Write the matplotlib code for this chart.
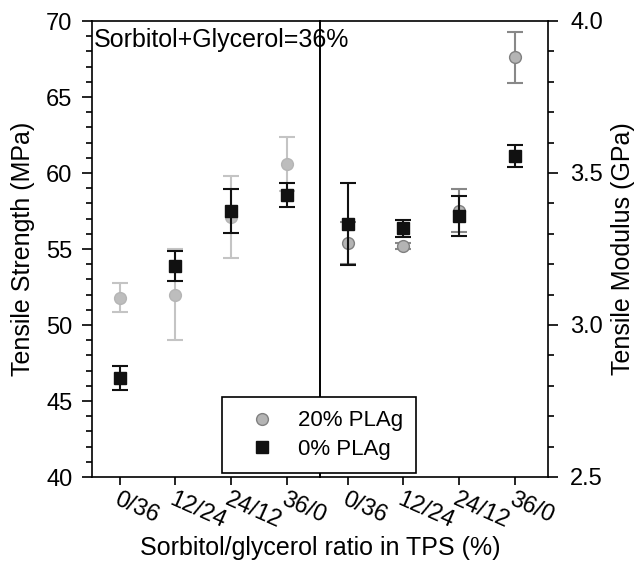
import matplotlib
matplotlib.use("Agg")
import matplotlib.pyplot as plt

plt.rcParams['font.family'] = ['Liberation Sans', 'DejaVu Sans']

# ---- data ----
ratios = ["0/36", "12/24", "24/12", "36/0"]
pos = [1, 2, 3, 4]

# tensile strength (MPa), left panel
ts_20 = [51.8, 52.0, 57.1, 60.6]
ts_20_err = [0.95, 3.0, 2.7, 1.8]
ts_0 = [46.5, 53.9, 57.5, 58.55]
ts_0_err = [0.8, 1.0, 1.45, 0.8]

# tensile modulus (GPa), right panel
tm_20 = [3.27, 3.26, 3.376, 3.88]
tm_20_err = [0.07, 0.01, 0.07, 0.085]
tm_0 = [3.331, 3.318, 3.359, 3.556]
tm_0_err = [0.135, 0.027, 0.066, 0.035]

fig = plt.figure(figsize=(6.4, 5.62), dpi=100)
bot = 85 / 562
h = 456 / 562
axL = fig.add_axes([92 / 640, bot, 228 / 640, h])
axR = fig.add_axes([320 / 640, bot, 228 / 640, h])

black = '#111111'

# left panel - strength
axL.errorbar(pos, ts_20, yerr=ts_20_err, fmt='o', ms=8.5, mfc='#bdbdbd', mec='#b5b5b5',
             ecolor='#c4c4c4', elinewidth=1.5, capsize=6, capthick=1.5, zorder=2)
axL.errorbar(pos, ts_0, yerr=ts_0_err, fmt='s', ms=8, mfc=black, mec=black,
             ecolor=black, elinewidth=1.5, capsize=6, capthick=1.5, zorder=3)
axL.set_ylim(40, 70)
axL.set_yticks([40, 45, 50, 55, 60, 65, 70])
axL.set_yticks(range(40, 71), minor=True)
axL.set_ylabel("Tensile Strength (MPa)", fontsize=18, labelpad=8)

# right panel - modulus
axR.errorbar(pos, tm_20, yerr=tm_20_err, fmt='o', ms=8.5, mfc='#b4b4b4', mec='#808080',
             ecolor='#888888', elinewidth=1.5, capsize=6, capthick=1.5, zorder=2)
axR.errorbar(pos, tm_0, yerr=tm_0_err, fmt='s', ms=8, mfc=black, mec=black,
             ecolor=black, elinewidth=1.5, capsize=6, capthick=1.5, zorder=3)
axR.set_ylim(2.5, 4.0)
axR.set_yticks([2.5, 3.0, 3.5, 4.0])
axR.set_yticks([2.5 + 0.1 * i for i in range(16)], minor=True)
axR.yaxis.tick_right()
axR.yaxis.set_label_position('right')
axR.set_ylabel("Tensile Modulus (GPa)", fontsize=18, labelpad=6)

for ax in (axL, axR):
    ax.set_xlim(0.5, 4.6)
    ax.set_xticks(pos)
    ax.set_xticklabels(ratios, rotation=-24, ha='left', va='top',
                       rotation_mode='anchor', fontsize=17)
    ax.tick_params(axis='x', direction='out', length=6, width=1.2, pad=2)
    ax.tick_params(axis='y', which='major', direction='out', length=7, width=1.2,
                   labelsize=17, pad=7)
    ax.tick_params(axis='y', which='minor', direction='out', length=4, width=1.2)
    for s in ax.spines.values():
        s.set_linewidth(1.2)
    ax.patch.set_alpha(0)

axR.tick_params(axis='y', which='major', pad=9)
axR.tick_params(axis='y', which='both', left=False)
axL.tick_params(axis='y', which='both', right=False)

axL.text(0.01, 0.985, "Sorbitol+Glycerol=36%", transform=axL.transAxes,
         ha='left', va='top', fontsize=18)

fig.text(0.5 * (92 + 548) / 640, 1 - 548 / 562, "Sorbitol/glycerol ratio in TPS (%)",
         ha='center', va='center', fontsize=18)

# legend with marker-only handles
h1, = axR.plot([], [], 'o', ms=8.5, mfc='#b4b4b4', mec='#808080')
h2, = axR.plot([], [], 's', ms=8, mfc=black, mec=black)
leg = fig.legend([h1, h2], ["20% PLAg", "0% PLAg"], loc='upper left',
                 bbox_to_anchor=(222 / 640, 1 - 397 / 562), fontsize=16,
                 frameon=True, fancybox=False, edgecolor='black', framealpha=1,
                 borderpad=0.6, labelspacing=0.35, handletextpad=0.4,
                 handlelength=2.4, borderaxespad=0)
leg.get_frame().set_linewidth(1.2)

fig.savefig("out.png", dpi=100)
